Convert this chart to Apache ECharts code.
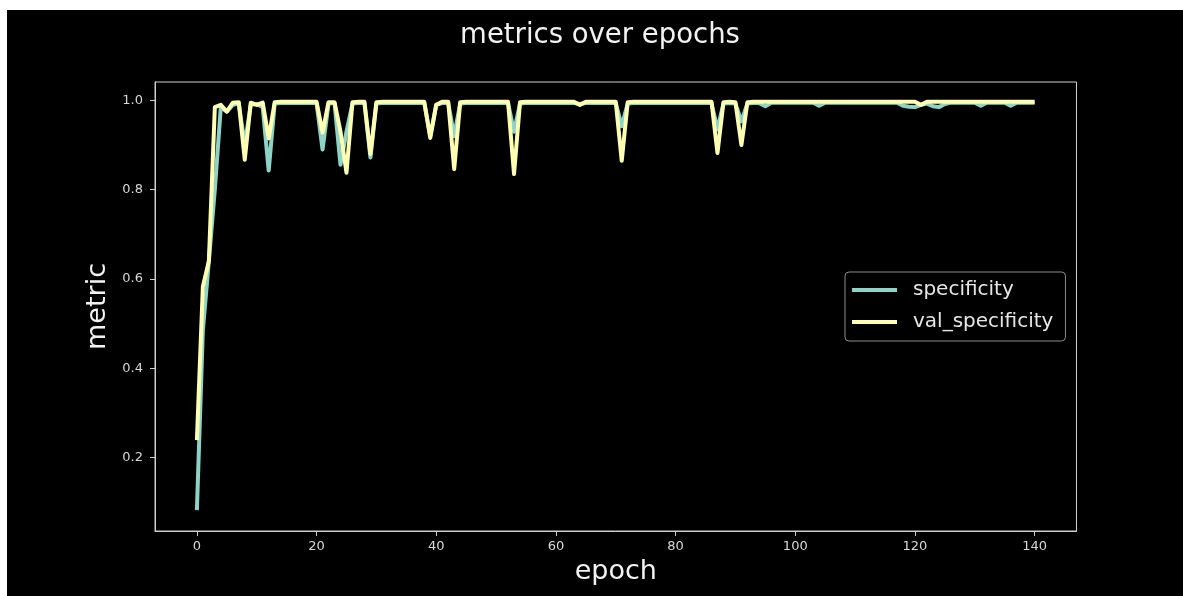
<!DOCTYPE html>
<html>
<head>
<meta charset="utf-8">
<script src="https://cdn.jsdelivr.net/npm/echarts@6/dist/echarts.min.js"></script>
<style>
  html, body { margin: 0; padding: 0; background: #ffffff; width: 1183px; height: 596px; overflow: hidden; }
  #chart { position: absolute; left: 7px; top: 10px; width: 1176px; height: 586px; background: #000000; }
</style>
</head>
<body>
<div id="chart"></div>
<script>
const titleText = 'metrics over epochs';
const xName = 'epoch';
const yName = 'metric';
const seriesNames = ['specificity', 'val_specificity'];
const xTicks = [0, 20, 40, 60, 80, 100, 120, 140];
const yTicks = [0.2, 0.4, 0.6, 0.8, 1.0];

const specificity = [
  0.082, 0.485, 0.640, 0.800, 0.985, 0.975, 0.990, 0.993, 0.900, 0.990,
  0.992, 0.985, 0.843, 0.993, 0.994, 0.994, 0.994, 0.994, 0.994, 0.994,
  0.994, 0.890, 0.993, 0.994, 0.856, 0.930, 0.993, 0.994, 0.994, 0.872,
  0.993, 0.994, 0.994, 0.994, 0.994, 0.994, 0.994, 0.994, 0.994, 0.920,
  0.990, 0.994, 0.994, 0.920, 0.993, 0.994, 0.994, 0.994, 0.994, 0.994,
  0.994, 0.994, 0.994, 0.930, 0.993, 0.994, 0.994, 0.994, 0.994, 0.994,
  0.994, 0.994, 0.994, 0.994, 0.992, 0.994, 0.994, 0.994, 0.994, 0.994,
  0.994, 0.942, 0.993, 0.994, 0.994, 0.994, 0.994, 0.994, 0.994, 0.994,
  0.994, 0.994, 0.994, 0.994, 0.994, 0.994, 0.994, 0.935, 0.993, 0.994,
  0.993, 0.953, 0.993, 0.994, 0.994, 0.987, 0.995, 0.995, 0.995, 0.995,
  0.995, 0.995, 0.995, 0.995, 0.988, 0.995, 0.995, 0.995, 0.995, 0.995,
  0.995, 0.995, 0.995, 0.995, 0.995, 0.995, 0.995, 0.995, 0.988, 0.986,
  0.985, 0.990, 0.993, 0.987, 0.985, 0.992, 0.995, 0.995, 0.995, 0.995,
  0.995, 0.988, 0.995, 0.995, 0.995, 0.995, 0.988, 0.995, 0.995, 0.995,
  0.995
];

const valSpecificity = [
  0.239, 0.583, 0.640, 0.985, 0.990, 0.975, 0.995, 0.996, 0.867, 0.995,
  0.990, 0.995, 0.915, 0.996, 0.997, 0.997, 0.997, 0.997, 0.997, 0.997,
  0.997, 0.928, 0.996, 0.996, 0.930, 0.838, 0.996, 0.997, 0.997, 0.880,
  0.996, 0.997, 0.997, 0.997, 0.997, 0.997, 0.997, 0.997, 0.997, 0.916,
  0.990, 0.997, 0.997, 0.846, 0.996, 0.997, 0.997, 0.997, 0.997, 0.997,
  0.997, 0.997, 0.997, 0.835, 0.996, 0.997, 0.997, 0.997, 0.997, 0.997,
  0.997, 0.997, 0.997, 0.997, 0.990, 0.997, 0.997, 0.997, 0.997, 0.997,
  0.997, 0.865, 0.996, 0.997, 0.997, 0.997, 0.997, 0.997, 0.997, 0.997,
  0.997, 0.997, 0.997, 0.997, 0.997, 0.997, 0.997, 0.882, 0.996, 0.997,
  0.996, 0.900, 0.996, 0.997, 0.997, 0.997, 0.997, 0.997, 0.997, 0.997,
  0.997, 0.997, 0.997, 0.997, 0.997, 0.997, 0.997, 0.997, 0.997, 0.997,
  0.997, 0.997, 0.997, 0.997, 0.997, 0.997, 0.997, 0.997, 0.997, 0.997,
  0.997, 0.990, 0.997, 0.997, 0.997, 0.997, 0.997, 0.997, 0.997, 0.997,
  0.997, 0.997, 0.997, 0.997, 0.997, 0.997, 0.997, 0.997, 0.997, 0.997,
  0.997
];

const FONT = 'DejaVu Sans';
const chart = echarts.init(document.getElementById('chart'), null, { renderer: 'canvas' });

function toPairs(arr) { return arr.map((v, i) => [i, v]); }

const option = {
  backgroundColor: '#000000',
  animation: false,
  color: ['#8dd3c7', '#feffb3'],
  title: {
    text: titleText,
    left: 593,
    textAlign: 'center',
    top: 12,
    padding: 0,
    textStyle: { color: '#f2f2f2', fontSize: 27.5, fontWeight: 'normal', fontFamily: FONT }
  },
  grid: {
    left: 148, top: 72, right: 106.5, bottom: 65,
    show: true, borderColor: '#cfcfcf', borderWidth: 1, backgroundColor: 'transparent',
    containLabel: false
  },
  legend: {
    orient: 'vertical',
    left: 838, top: 262,
    data: seriesNames,
    icon: 'rect',
    itemWidth: 45, itemHeight: 4,
    itemGap: 8,
    padding: [6, 12, 7, 7],
    borderColor: '#8c8c8c', borderWidth: 1, borderRadius: 4,
    backgroundColor: '#000000',
    textStyle: { color: '#e6e6e6', fontSize: 20, fontFamily: FONT, lineHeight: 24, padding: [0, 0, 0, 11] }
  },
  xAxis: {
    type: 'value',
    min: -7, max: 147,
    name: xName,
    nameLocation: 'middle',
    nameGap: 27,
    nameTextStyle: { color: '#f2f2f2', fontSize: 27, fontFamily: FONT },
    splitLine: { show: false },
    axisLine: { show: true, onZero: false, lineStyle: { color: '#cfcfcf', width: 1 } },
    axisTick: { show: true, inside: false, length: 5, customValues: xTicks, lineStyle: { color: '#cfcfcf', width: 1 } },
    axisLabel: { customValues: xTicks, color: '#d8d8d8', fontSize: 13, fontFamily: FONT, margin: 9 }
  },
  yAxis: {
    type: 'value',
    min: 0.0352, max: 1.0413,
    name: yName,
    nameLocation: 'middle',
    nameGap: 36,
    nameRotate: 90,
    nameTextStyle: { color: '#f2f2f2', fontSize: 27, fontFamily: FONT },
    splitLine: { show: false },
    axisLine: { show: true, onZero: false, lineStyle: { color: '#cfcfcf', width: 1 } },
    axisTick: { show: true, inside: false, length: 5, customValues: yTicks, lineStyle: { color: '#cfcfcf', width: 1 } },
    axisLabel: { customValues: yTicks, color: '#d8d8d8', fontSize: 13, fontFamily: FONT, margin: 12,
      formatter: v => v.toFixed(1) }
  },
  series: [
    {
      name: seriesNames[0], type: 'line', data: toPairs(specificity),
      showSymbol: false, symbol: 'none', z: 2,
      lineStyle: { width: 4, color: '#8dd3c7', join: 'round', cap: 'butt' }
    },
    {
      name: seriesNames[1], type: 'line', data: toPairs(valSpecificity),
      showSymbol: false, symbol: 'none', z: 3,
      lineStyle: { width: 4, color: '#feffb3', join: 'round', cap: 'butt' }
    }
  ]
};
chart.setOption(option);
</script>
</body>
</html>
